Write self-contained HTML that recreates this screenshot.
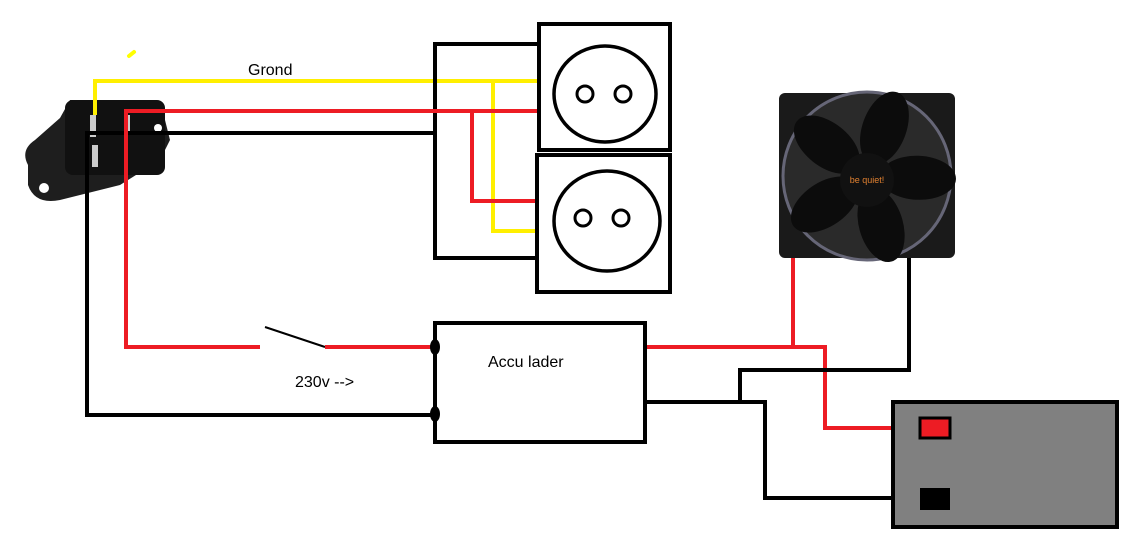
<!DOCTYPE html>
<html><head><style>body{margin:0;background:#fff}svg{display:block}</style></head><body>
<svg width="1146" height="546" viewBox="0 0 1146 546" xmlns="http://www.w3.org/2000/svg" font-family="Liberation Sans, sans-serif">
<!-- IEC connector -->
<path d="M28,165 Q20,150 35,140 L60,118 L70,100 L150,100 L165,120 L170,140 L160,160 L120,185 L60,200 Q35,205 28,185 Z" fill="#1e1e1e"/>
<rect x="65" y="100" width="100" height="75" rx="8" fill="#111"/>
<circle cx="44" cy="188" r="5" fill="#fff"/><circle cx="158" cy="128" r="4" fill="#fff"/>
<rect x="90" y="115" width="6" height="22" fill="#ccc"/><rect x="125" y="115" width="5" height="20" fill="#ccc"/><rect x="92" y="145" width="6" height="22" fill="#ccc"/>
<line x1="129" y1="56" x2="134" y2="52" stroke="#ff0" stroke-width="4" stroke-linecap="round"/>
<!-- fan -->
<rect x="779" y="93" width="176" height="165" rx="6" fill="#1a1a1a"/>
<circle cx="867" cy="176" r="84" fill="#2a2a2a" stroke="#667" stroke-width="3"/>
<g fill="#0c0c0c">
<ellipse cx="867" cy="125" rx="22" ry="38" transform="rotate(20 867 176)"/>
<ellipse cx="867" cy="125" rx="22" ry="38" transform="rotate(92 867 176)"/>
<ellipse cx="867" cy="125" rx="22" ry="38" transform="rotate(164 867 176)"/>
<ellipse cx="867" cy="125" rx="22" ry="38" transform="rotate(236 867 176)"/>
<ellipse cx="867" cy="125" rx="22" ry="38" transform="rotate(308 867 176)"/>
</g>
<circle cx="867" cy="180" r="27" fill="#111"/>
<text x="867" y="183" font-size="9" fill="#e08030" text-anchor="middle">be quiet!</text>
<g fill="none" stroke-width="4">
<!-- yellow -->
<polyline points="95,115 95,81 538,81" stroke="#ffef00"/>
<polyline points="493,81 493,231 538,231" stroke="#ffef00"/>
<!-- black frame -->
<polyline points="538,44 435,44 435,258 538,258" stroke="#000"/>
<polyline points="87,417 87,133 435,133" stroke="#000"/>
<line x1="87" y1="415" x2="435" y2="415" stroke="#000"/>
<!-- red -->
<polyline points="126,347 126,111 538,111" stroke="#ed1c24"/>
<polyline points="472,111 472,201 538,201" stroke="#ed1c24"/>
<line x1="124" y1="347" x2="260" y2="347" stroke="#ed1c24"/>
<line x1="265" y1="327" x2="325" y2="347" stroke="#000" stroke-width="2"/>
<line x1="325" y1="347" x2="435" y2="347" stroke="#ed1c24"/>
<polyline points="645,347 825,347 825,428 920,428" stroke="#ed1c24"/>
<line x1="793" y1="258" x2="793" y2="347" stroke="#ed1c24"/>
<!-- black right -->
<polyline points="909,258 909,370 740,370 740,402" stroke="#000"/>
<polyline points="645,402 765,402 765,498 920,498" stroke="#000"/>
<!-- sockets -->
<rect x="539" y="24" width="131" height="126" stroke="#000"/>
<rect x="537" y="155" width="133" height="137" stroke="#000"/>
<ellipse cx="605" cy="94" rx="51" ry="48" stroke="#000" stroke-width="3.5"/>
<ellipse cx="607" cy="221" rx="53" ry="50" stroke="#000" stroke-width="3.5"/>
<circle cx="585" cy="94" r="8" stroke="#000" stroke-width="3"/><circle cx="623" cy="94" r="8" stroke="#000" stroke-width="3"/>
<circle cx="583" cy="218" r="8" stroke="#000" stroke-width="3"/><circle cx="621" cy="218" r="8" stroke="#000" stroke-width="3"/>
<!-- accu lader -->
<rect x="435" y="323" width="210" height="119" stroke="#000"/>
</g>
<ellipse cx="435" cy="347" rx="5" ry="8" fill="#000"/>
<ellipse cx="435" cy="414" rx="5" ry="8" fill="#000"/>
<!-- battery -->
<rect x="893" y="402" width="224" height="125" fill="#808080" stroke="#000" stroke-width="4"/>
<rect x="920" y="418" width="30" height="20" fill="#ed1c24" stroke="#000" stroke-width="3"/>
<rect x="920" y="488" width="30" height="22" fill="#000"/>
<text x="248" y="75" font-size="16">Grond</text>
<text x="488" y="367" font-size="16">Accu lader</text>
<text x="295" y="387" font-size="16">230v --&gt;</text>
</svg>
</body></html>
